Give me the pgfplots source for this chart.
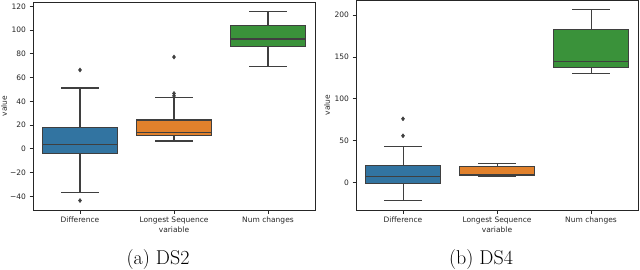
\documentclass[border=0pt]{standalone}
\usepackage{fontspec}
\newfontfamily\djv{DejaVu Sans}
\usepackage{pgfplots}
\pgfplotsset{compat=1.18}
\usepgfplotslibrary{statistics}
\definecolor{sbblue}{HTML}{3274A1}
\definecolor{sborange}{HTML}{E1812C}
\definecolor{sbgreen}{HTML}{3A923A}
\definecolor{edge}{HTML}{3F3F3F}
\definecolor{txt}{HTML}{262626}
\pgfplotsset{sbstyle/.style={
  scale only axis, width=282pt, anchor=south west,
  xmin=-0.5, xmax=2.5, xtick={0,1,2},
  xticklabels={Difference,Longest Sequence,Num changes},
  tick label style={font=\djv\fontsize{7.5}{9}\selectfont, text=txt},
  label style={font=\djv\fontsize{7.5}{9}\selectfont, text=txt},
  /pgf/number format/assume math mode=true,
  tick align=outside, major tick length=3.5pt,
  xtick pos=bottom, ytick pos=left,
  tick style={txt, line width=0.7pt},
  axis line style={txt, line width=0.8pt},
  xlabel=variable, ylabel=value,
  xlabel style={at={(axis description cs:0.5,-0.096)}, anchor=center},
  ylabel style={at={(axis description cs:-0.103,0.5)}, anchor=center},
  boxplot/draw direction=y,
  boxplot/box extend=0.8,
  boxplot/whisker extend=0.4,
}}
\begin{document}
\begin{tikzpicture}
\path[use as bounding box] (0,0) rectangle (640pt,269pt);
% ---------- (a) DS2 ----------
\begin{axis}[sbstyle, at={(33pt,59pt)}, height=208pt,
  ymin=-51.5, ymax=123.6,
  ytick={-40,-20,0,20,40,60,80,100,120},
  yticklabels={−40,−20,0,20,40,60,80,100,120}]
\addplot[boxplot prepared={draw position=0, lower whisker=-37, lower quartile=-3.9,
  median=3.6, upper quartile=18.2, upper whisker=51.3},
  fill=sbblue, draw=edge, line width=1.3pt,
  mark=diamond*, mark size=2pt, mark options={fill=edge, draw=edge, line width=0.5pt}]
  table[row sep=\\, y index=0] {66.4\\ -43.5\\};
\addplot[boxplot prepared={draw position=1, lower whisker=6.7, lower quartile=11.2,
  median=13.7, upper quartile=24.3, upper whisker=43},
  fill=sborange, draw=edge, line width=1.3pt,
  mark=diamond*, mark size=2pt, mark options={fill=edge, draw=edge, line width=0.5pt}]
  table[row sep=\\, y index=0] {77.3\\ 46.6\\ 44.6\\};
\addplot[boxplot prepared={draw position=2, lower whisker=69.2, lower quartile=86.3,
  median=92.4, upper quartile=103.6, upper whisker=115.6},
  fill=sbgreen, draw=edge, line width=1.3pt]
  coordinates {};
\end{axis}
% ---------- (b) DS4 ----------
\begin{axis}[sbstyle, at={(356pt,59pt)}, height=210pt,
  ymin=-33, ymax=218,
  ytick={0,50,100,150,200}]
\addplot[boxplot prepared={draw position=0, lower whisker=-21.8, lower quartile=-0.8,
  median=7.6, upper quartile=19.6, upper whisker=43},
  fill=sbblue, draw=edge, line width=1pt,
  mark=diamond*, mark size=2pt, mark options={fill=edge, draw=edge, line width=0.5pt}]
  table[row sep=\\, y index=0] {76\\ 55.7\\};
\addplot[boxplot prepared={draw position=1, lower whisker=7.2, lower quartile=8.4,
  median=9.5, upper quartile=18.7, upper whisker=23.1},
  fill=sborange, draw=edge, line width=1pt]
  coordinates {};
\addplot[boxplot prepared={draw position=2, lower whisker=130, lower quartile=137,
  median=144.7, upper quartile=182.6, upper whisker=206.5},
  fill=sbgreen, draw=edge, line width=1pt]
  coordinates {};
\end{axis}
\node[anchor=base, font=\fontsize{20}{24}\selectfont] at (158pt,5pt) {(a) DS2};
\node[anchor=base, font=\fontsize{20}{24}\selectfont] at (481pt,5pt) {(b) DS4};
\end{tikzpicture}
\end{document}
